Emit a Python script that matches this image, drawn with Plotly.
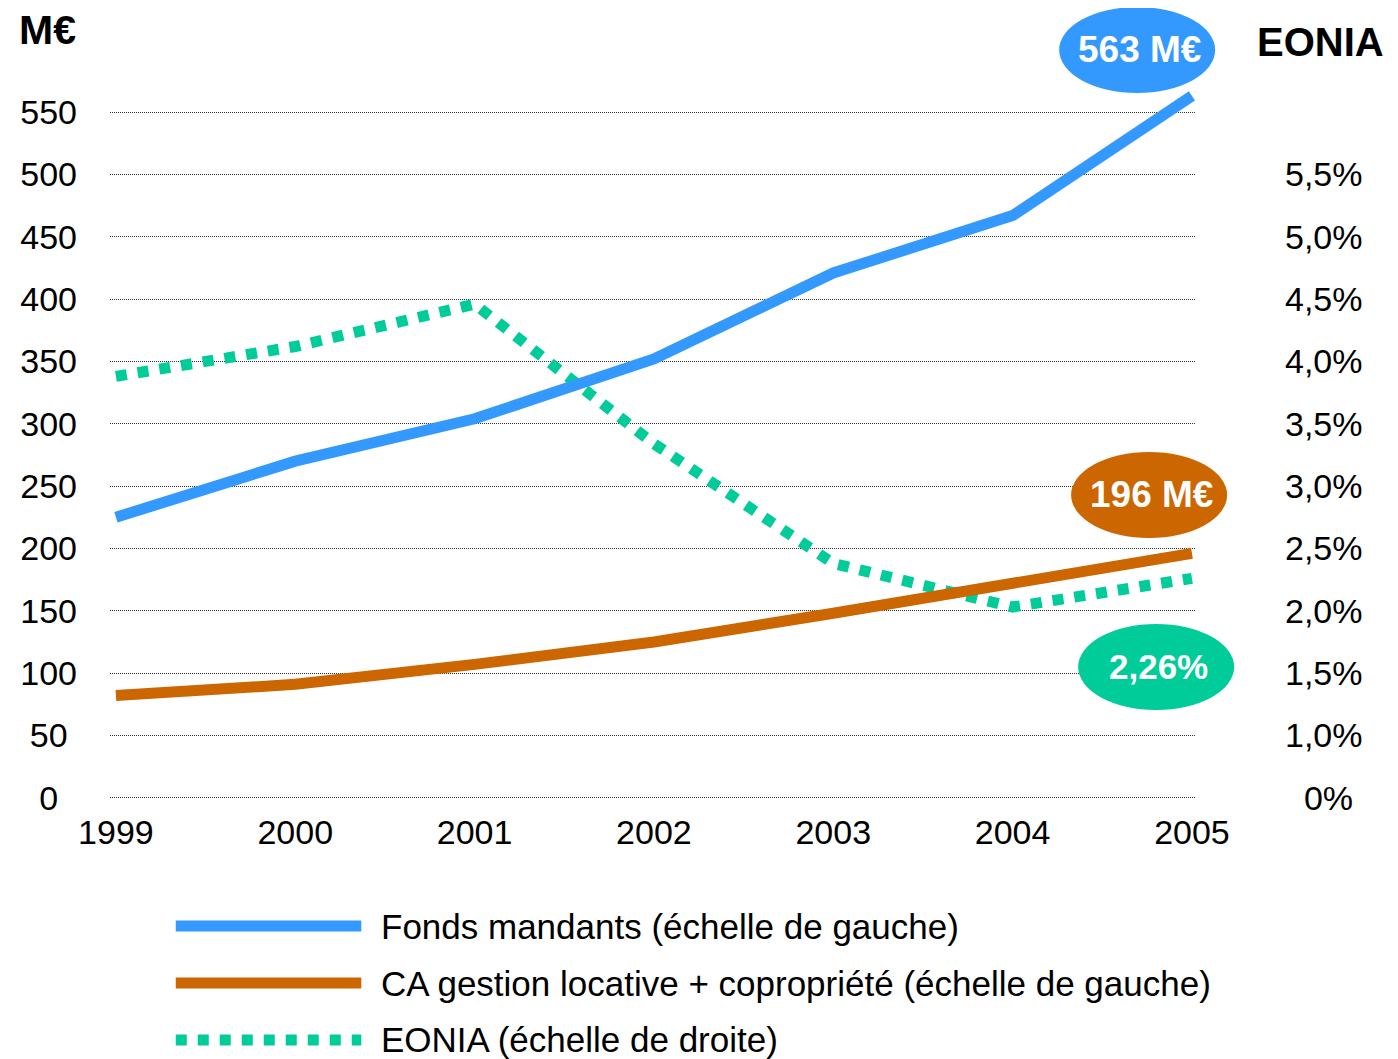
import plotly.graph_objects as go

# data
years = [1999, 2000, 2001, 2002, 2003, 2004, 2005]
fonds_mandants = [225, 270, 304, 352, 421, 467, 563]
ca_gestion = [82, 91, 107, 125, 148, 173, 196]
eonia = [3.88, 4.12, 4.46, 3.34, 2.38, 2.03, 2.26]

left_ticks = [0, 50, 100, 150, 200, 250, 300, 350, 400, 450, 500, 550]
right_ticks = [0.5, 1.0, 1.5, 2.0, 2.5, 3.0, 3.5, 4.0, 4.5, 5.0, 5.5]
right_labels = ["0%", "1,0%", "1,5%", "2,0%", "2,5%", "3,0%", "3,5%", "4,0%", "4,5%", "5,0%", "5,5%"]

names = [
    "Fonds mandants (échelle de gauche)",
    "CA gestion locative + copropriété (échelle de gauche)",
    "EONIA (échelle de droite)",
]
colors = ["#3399FF", "#CC6600", "#00CC99"]
bubbles = ["563 M€", "196 M€", "2,26%"]

FONT = "Liberation Sans, Arial, sans-serif"
NBSP = "\u00a0"


def pad_left(v):
    # centre the left labels like the original slide
    s = str(v)
    return s + NBSP * (3 - len(s))


fig = go.Figure()

# EONIA on the main (right) axis so it sits under the other lines
fig.add_trace(
    go.Scatter(
        x=years, y=eonia, name=names[2], mode="lines",
        line=dict(color=colors[2], width=11, dash="dot"),
        yaxis="y", showlegend=False,
    )
)
fig.add_trace(
    go.Scatter(
        x=years, y=ca_gestion, name=names[1], mode="lines",
        line=dict(color=colors[1], width=11),
        yaxis="y2", showlegend=False,
    )
)
fig.add_trace(
    go.Scatter(
        x=years, y=fonds_mandants, name=names[0], mode="lines",
        line=dict(color=colors[0], width=11),
        yaxis="y2", showlegend=False,
    )
)

# page body has an 8px margin, so the figure is 8px smaller on each side
fig.update_layout(
    width=1390,
    height=1051,
    margin=dict(l=99, r=203, t=68, b=260),
    paper_bgcolor="white",
    plot_bgcolor="white",
    font=dict(family=FONT, size=34, color="black"),
    xaxis=dict(
        range=[1998.967, 2005.017],
        tickvals=years,
        ticktext=[str(y) for y in years],
        showgrid=False,
        zeroline=False,
        showline=False,
        ticklabelstandoff=10,
    ),
    yaxis=dict(
        side="right",
        range=[0.49, 6.29],
        tickvals=right_ticks,
        ticktext=[NBSP * 2 + right_labels[0]] + right_labels[1:],
        showgrid=False,
        zeroline=False,
        showline=False,
        ticklabelstandoff=89,
    ),
    yaxis2=dict(
        side="left",
        overlaying="y",
        range=[-1, 579],
        tickvals=left_ticks,
        ticktext=[pad_left(v) for v in left_ticks],
        showgrid=True,
        gridcolor="#333333",
        gridwidth=1,
        griddash="1px,1px",
        zeroline=False,
        showline=False,
        ticklabelstandoff=32,
    ),
)

# axis unit titles
fig.add_annotation(
    text="<b>M€</b>", xref="paper", yref="paper", x=-0.058, y=1.064,
    xanchor="center", yanchor="middle", showarrow=False,
    font=dict(size=41, family=FONT, color="black"),
)
fig.add_annotation(
    text="<b>EONIA</b>", xref="paper", yref="paper", x=1.1158, y=1.047,
    xanchor="center", yanchor="middle", showarrow=False,
    font=dict(size=40, family=FONT, color="black"),
)

# value bubbles
bubble_pos = [(0.9467, 1.036), (0.9577, 0.4205), (0.9642, 0.1826)]
bubble_size = [37, 37, 35]
for (bx, by), txt, c, fs in zip(bubble_pos, bubbles, colors, bubble_size):
    fig.add_shape(
        type="circle", xref="paper", yref="paper",
        xsizemode="pixel", ysizemode="pixel", xanchor=bx, yanchor=by,
        x0=-78, x1=78, y0=-43, y1=43,
        fillcolor=c, line=dict(width=0), layer="above",
    )
    fig.add_annotation(
        text=f"<b>{txt}</b>", xref="paper", yref="paper", x=bx + 0.002, y=by,
        xanchor="center", yanchor="middle", showarrow=False,
        font=dict(size=fs, family=FONT, color="white"),
    )

# legend drawn by hand to get the long line samples
legend_y = [-0.1757, -0.2545, -0.3333]
dashes = ["solid", "solid", "dot"]
for ly, name, c, d in zip(legend_y, names, colors, dashes):
    fig.add_shape(
        type="line", xref="paper", yref="paper",
        x0=0.0606, x1=0.2316, y0=ly, y1=ly,
        line=dict(color=c, width=11, dash=d),
    )
    fig.add_annotation(
        text=name, xref="paper", yref="paper", x=0.2482, y=ly,
        xanchor="left", yanchor="middle", showarrow=False,
        font=dict(size=35, family=FONT, color="black"),
    )

fig.write_html("out.html")
